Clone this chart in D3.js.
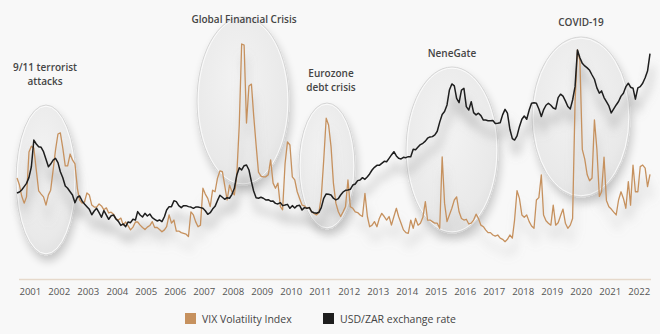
<!DOCTYPE html>
<html>
<head>
<meta charset="utf-8">
<script src="https://cdn.jsdelivr.net/npm/d3@7"></script>
<style>
  html, body { margin: 0; padding: 0; background: #f8f8f8; }
  svg { display: block; font-family: "Open Sans", "Noto Sans", sans-serif; }
</style>
</head>
<body>
<svg id="chart" width="660" height="334"></svg>
<script>
// ---------------- DATA (monthly, Jan 2001 – Nov 2022) ----------------
const startYear = 2001, startMonth = 0;

const vix = [
  25.7,23.9,21.1,19.3,20.9,32.3,33.8,33.3,27.7,22.4,21.6,20.9,
  18.8,21.4,22.6,27.7,32.8,36.9,37.2,33.3,28.8,28.8,31.8,30.3,
  29.3,23.0,20.1,19.3,19.6,21.9,21.4,18.8,18.3,18.3,19.1,18.6,
  17.6,18.1,16.8,17.0,16.5,15.3,15.0,15.5,13.7,14.5,13.5,12.5,
  13.2,14.5,14.5,13.7,13.1,12.6,13.2,13.6,14.6,13.1,13.1,12.6,
  12.0,12.5,13.3,16.3,14.2,15.0,12.2,12.2,11.8,11.6,11.4,10.8,
  17.1,16.3,14.6,13.3,13.7,23.1,21.6,20.5,18.4,22.6,22.2,25.6,
  27.5,27.3,23.9,20.1,23.9,22.2,21.4,26.5,39.2,59.8,59.5,39.7,
  49.1,49.6,41.7,34.1,27.2,26.2,26.0,26.0,26.5,30.3,24.4,23.1,
  24.4,18.4,17.6,29.4,34.9,34.1,26.0,25.2,22.2,20.5,18.8,18.6,
  18.0,18.2,17.1,16.7,16.3,16.9,20.9,30.3,40.9,39.2,33.7,24.4,
  19.3,17.1,15.9,17.1,18.4,25.2,18.4,18.0,17.1,16.9,16.3,15.9,
  21.8,15.9,13.3,13.7,14.6,13.3,15.4,16.7,15.9,15.0,15.9,13.7,
  15.9,18.0,15.9,14.2,12.5,11.8,11.6,15.0,12.9,15.4,13.7,14.2,
  15.7,19.7,15.0,15.0,14.6,14.2,14.2,12.9,31.1,19.3,14.6,16.3,
  18.0,20.1,20.9,17.1,15.4,15.0,15.2,14.0,14.2,15.0,16.5,15.4,
  13.7,13.3,12.5,11.8,11.8,11.2,10.9,11.2,10.4,10.1,9.5,10.1,
  11.2,10.4,15.0,22.5,20.5,16.3,15.7,16.3,14.6,13.5,12.9,20.1,
  20.7,26.5,16.3,14.8,14.2,13.7,18.8,13.7,14.3,16.1,17.8,14.2,
  12.9,13.7,15.4,45.1,58.3,55.5,33.0,30.5,26.5,25.0,25.7,40.5,
  33.0,21.0,22.2,31.0,20.0,18.4,17.8,17.0,16.3,20.1,22.2,20.5,
  18.0,24.8,18.8,29.0,22.2,22.2,28.6,29.0,28.2,23.5,26.6
];

const usdzar = [
  7.80,7.87,8.01,8.25,8.48,8.90,9.65,11.53,11.25,11.06,11.02,10.71,
  10.17,9.65,9.84,10.12,10.24,9.94,9.30,8.88,8.29,8.13,7.89,7.66,
  7.12,7.50,7.59,7.24,7.03,6.84,6.65,6.27,6.53,6.72,6.42,6.09,
  6.56,6.25,5.95,6.20,6.25,5.97,5.80,5.52,5.62,5.43,5.76,5.71,
  5.95,5.90,6.49,6.25,6.11,6.37,6.18,6.32,6.06,5.95,5.83,5.90,
  5.78,6.13,6.60,6.84,6.84,7.26,7.19,6.91,6.77,6.91,6.91,6.84,
  6.81,6.72,6.81,6.81,6.77,6.72,6.55,6.30,6.41,6.67,6.86,7.26,
  7.64,7.50,7.36,7.47,7.43,7.71,8.13,9.07,9.58,9.42,9.72,9.77,
  9.42,8.60,7.94,7.47,7.43,7.50,7.43,7.31,7.33,7.22,7.23,7.07,
  7.03,7.12,6.91,6.95,7.00,6.72,6.91,6.74,6.91,6.93,6.60,6.77,
  6.72,6.77,6.48,6.41,6.37,6.44,6.77,7.43,7.73,7.71,7.66,7.43,
  7.31,7.40,7.66,7.87,7.99,8.01,8.06,8.36,8.43,8.67,8.72,8.88,
  8.76,8.95,9.14,9.42,9.61,9.75,9.75,9.89,10.03,10.00,10.24,10.48,
  10.71,10.41,10.24,10.20,10.31,10.29,10.36,10.36,10.88,10.85,11.04,11.21,
  11.30,11.45,11.66,11.75,11.77,11.89,12.15,12.79,13.33,13.54,14.00,15.05,
  15.48,15.34,14.47,14.16,15.05,15.17,13.88,13.64,14.23,13.46,13.30,13.42,
  13.25,12.94,12.94,12.89,12.89,12.91,12.70,12.72,12.75,13.30,13.69,13.42,
  12.29,11.63,11.53,11.82,12.47,12.99,13.22,12.99,13.64,14.12,14.15,14.12,
  13.72,13.18,13.65,13.98,14.12,13.98,13.79,13.72,14.52,14.76,14.62,14.29,
  13.89,13.72,14.35,15.29,17.87,17.33,16.93,16.75,16.61,16.44,16.11,15.81,
  15.20,14.83,14.99,14.52,14.24,13.93,13.44,13.72,14.00,14.24,14.62,14.83,
  15.29,15.53,15.25,15.18,14.41,15.20,15.29,15.53,15.92,16.39,17.61
];

const years = d3.range(2001, 2023);
const seriesNames = ["VIX Volatility Index", "USD/ZAR exchange rate"];
const seriesColors = ["#c6915e", "#1e1e1e"];

const events = [
  { label: ["9/11 terrorist", "attacks"], cx: 46, cy: 180, rx: 30, ry: 75, tx: 45, ty: 71 },
  { label: ["Global Financial Crisis"], cx: 243, cy: 101, rx: 46, ry: 84, tx: 244, ty: 23 },
  { label: ["Eurozone", "debt crisis"], cx: 327, cy: 166, rx: 28, ry: 63, tx: 331, ty: 77 },
  { label: ["NeneGate"], cx: 452, cy: 150, rx: 46, ry: 83, tx: 452, ty: 57 },
  { label: ["COVID-19"], cx: 581, cy: 117, rx: 49, ry: 80, tx: 581, ty: 26 }
];

// ---------------- CHART ----------------
const svg = d3.select("#chart");
const W = 660, H = 334;
svg.append("rect").attr("width", W).attr("height", H).attr("fill", "#f8f8f8");

const dates = vix.map((_, i) => new Date(startYear, startMonth + i, 1));

const x = d3.scaleTime()
  .domain([dates[0], dates[dates.length - 1]])
  .range([17, 650]);
const yVix = d3.scaleLinear().domain([0, 60]).range([279, 43.2]);
const yZar = d3.scaleLinear().domain([6, 19]).range([218.56, 33.96]);

const defs = svg.append("defs");
const grad = defs.append("radialGradient").attr("id", "glass")
  .attr("cx", "45%").attr("cy", "38%").attr("r", "65%");
grad.append("stop").attr("offset", "0%").attr("stop-color", "#f3f3f3");
grad.append("stop").attr("offset", "80%").attr("stop-color", "#e9e9e9");
grad.append("stop").attr("offset", "100%").attr("stop-color", "#e1e1e1");

const ellShadow = defs.append("filter").attr("id", "ellShadow")
  .attr("x", "-30%").attr("y", "-30%").attr("width", "160%").attr("height", "160%");
ellShadow.append("feGaussianBlur").attr("in", "SourceAlpha").attr("stdDeviation", 4).attr("result", "b");
ellShadow.append("feOffset").attr("in", "b").attr("dx", 2).attr("dy", 6).attr("result", "o");
ellShadow.append("feComponentTransfer").attr("in", "o").attr("result", "s")
  .append("feFuncA").attr("type", "linear").attr("slope", 0.2);
const m = ellShadow.append("feMerge");
m.append("feMergeNode").attr("in", "s");
m.append("feMergeNode").attr("in", "SourceGraphic");

const blur = defs.append("filter").attr("id", "lineBlur")
  .attr("x", "-10%").attr("y", "-40%").attr("width", "120%").attr("height", "180%");
blur.append("feGaussianBlur").attr("stdDeviation", 5);

// ellipses
const eg = svg.append("g");
eg.selectAll("ellipse").data(events).join("ellipse")
  .attr("cx", d => d.cx).attr("cy", d => d.cy)
  .attr("rx", d => d.rx).attr("ry", d => d.ry)
  .attr("fill", "url(#glass)")
  .attr("stroke", "#d5d5d5").attr("stroke-width", 1)
  .attr("filter", "url(#ellShadow)");
eg.selectAll("ellipse.hl").data(events).join("ellipse").attr("class", "hl")
  .attr("cx", d => d.cx).attr("cy", d => d.cy)
  .attr("rx", d => d.rx - 1.2).attr("ry", d => d.ry - 1.2)
  .attr("fill", "none").attr("stroke", "#fbfbfb").attr("stroke-width", 1);

// line generators
const lineVix = d3.line().x((d, i) => x(dates[i])).y(d => yVix(d));
const lineZar = d3.line().x((d, i) => x(dates[i])).y(d => yZar(d));

// soft shadows under lines
const sh = svg.append("g").attr("filter", "url(#lineBlur)").attr("transform", "translate(2,13)");
sh.append("path").attr("d", lineZar(usdzar)).attr("fill", "none")
  .attr("stroke", "#8a8a8a").attr("stroke-opacity", 0.45).attr("stroke-width", 4);
sh.append("path").attr("d", lineVix(vix)).attr("fill", "none")
  .attr("stroke", "#9a9a9a").attr("stroke-opacity", 0.25).attr("stroke-width", 3);

// axis
const xAxis = d3.axisBottom(x)
  .tickValues(years.map(yr => new Date(yr, 5, 12)))
  .tickFormat(d3.timeFormat("%Y"))
  .tickSize(0).tickSizeOuter(0).tickPadding(9);
const ax = svg.append("g").attr("transform", "translate(0,279)").call(xAxis);
ax.select(".domain").attr("stroke", "#e6d9cb").attr("stroke-width", 1.5)
  .attr("d", "M19,0.5H651");
ax.selectAll("text").attr("fill", "#555").attr("font-size", 9.6)
  .attr("font-family", "'Open Sans', sans-serif");

// lines
svg.append("path").attr("d", lineVix(vix)).attr("fill", "none")
  .attr("stroke", seriesColors[0]).attr("stroke-width", 1.3).attr("stroke-linejoin", "round");
svg.append("path").attr("d", lineZar(usdzar)).attr("fill", "none")
  .attr("stroke", seriesColors[1]).attr("stroke-width", 1.5).attr("stroke-linejoin", "round");

// annotation labels (one text per line)
const lab = svg.append("g").attr("font-size", 10).attr("font-weight", 600)
  .attr("fill", "#454545").attr("text-anchor", "middle");
events.forEach(ev => {
  ev.label.forEach((s, k) => lab.append("text")
    .attr("x", ev.tx).attr("y", ev.ty + k * 14).text(s));
});

// legend
const legendX = [185, 323];
const lg = svg.append("g");
seriesNames.forEach((name, i) => {
  lg.append("rect").attr("x", legendX[i]).attr("y", 313).attr("width", 11).attr("height", 11)
    .attr("fill", seriesColors[i]);
  lg.append("text").attr("x", legendX[i] + 17).attr("y", 322.5)
    .attr("font-size", 10.5).attr("fill", "#444").text(name);
});
</script>
</body>
</html>
